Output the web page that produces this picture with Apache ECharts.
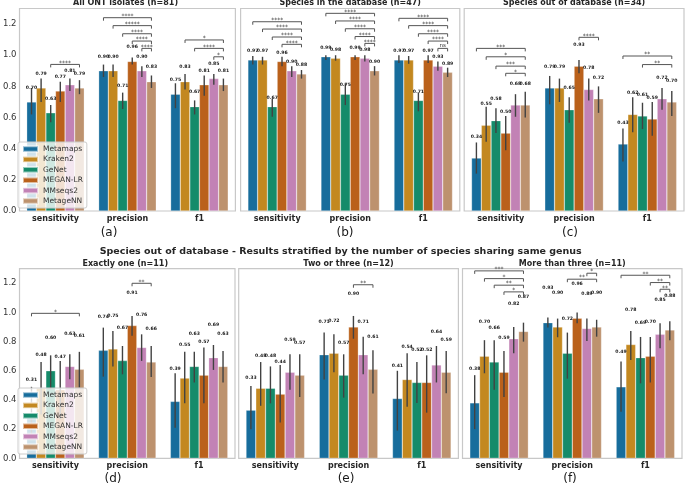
<!DOCTYPE html>
<html><head><meta charset="utf-8">
<script src="https://cdn.jsdelivr.net/npm/echarts@6.0.0/dist/echarts.min.js"></script>
<style>html,body{margin:0;padding:0;background:#fff}#c{width:685px;height:486px}</style>
</head><body><div id="c"></div>
<script>
// ---------- labels ----------
const methods = ['Metamaps', 'Kraken2', 'GeNet', 'MEGAN-LR', 'MMseqs2', 'MetageNN'];
const metrics = ['sensitivity', 'precision', 'f1'];
const yTicks = [0, 0.2, 0.4, 0.6, 0.8, 1.0, 1.2];
const panelTitles = ['All ONT isolates (n=81)', 'Species in the database (n=47)', 'Species out of database (n=34)',
  'Exactly one (n=11)', 'Two or three (n=12)', 'More than three (n=11)'];
const panelTags = ['(a)', '(b)', '(c)', '(d)', '(e)', '(f)'];
const suptitle = 'Species out of database - Results stratified by the number of species sharing same genus';

// ---------- values: rows = sensitivity, precision, f1; columns = methods ----------
const meanA = [[0.70, 0.79, 0.63, 0.77, 0.81, 0.79], [0.90, 0.90, 0.71, 0.96, 0.90, 0.83], [0.75, 0.83, 0.67, 0.81, 0.85, 0.81]];
const lowA  = [[0.62, 0.70, 0.57, 0.70, 0.77, 0.75], [0.86, 0.86, 0.655, 0.94, 0.86, 0.79], [0.66, 0.78, 0.62, 0.74, 0.81, 0.77]];
const highA = [[0.79, 0.85, 0.68, 0.83, 0.85, 0.84], [0.94, 0.94, 0.76, 0.985, 0.93, 0.87], [0.82, 0.88, 0.71, 0.87, 0.88, 0.85]];

const meanB = [[0.97, 0.97, 0.67, 0.96, 0.90, 0.88], [0.99, 0.98, 0.75, 0.99, 0.98, 0.90], [0.97, 0.97, 0.71, 0.97, 0.93, 0.89]];
const lowB  = [[0.94, 0.94, 0.605, 0.93, 0.86, 0.85], [0.97, 0.965, 0.68, 0.97, 0.96, 0.87], [0.95, 0.945, 0.64, 0.95, 0.90, 0.86]];
const highB = [[0.995, 0.99, 0.72, 0.99, 0.93, 0.905], [1.0, 1.0, 0.82, 1.0, 1.0, 0.93], [1.0, 0.995, 0.76, 1.0, 0.96, 0.92]];

const meanC = [[0.34, 0.55, 0.58, 0.50, 0.68, 0.68], [0.79, 0.79, 0.65, 0.93, 0.78, 0.72], [0.43, 0.62, 0.61, 0.59, 0.72, 0.70]];
const lowC  = [[0.24, 0.445, 0.50, 0.39, 0.605, 0.60], [0.685, 0.70, 0.567, 0.884, 0.71, 0.63], [0.317, 0.505, 0.526, 0.483, 0.65, 0.61]];
const highC = [[0.44, 0.67, 0.66, 0.61, 0.75, 0.765], [0.867, 0.85, 0.73, 0.97, 0.85, 0.80], [0.53, 0.73, 0.695, 0.70, 0.79, 0.77]];

const meanD = [[0.31, 0.48, 0.60, 0.47, 0.63, 0.61], [0.74, 0.75, 0.67, 0.91, 0.76, 0.66], [0.39, 0.55, 0.63, 0.57, 0.69, 0.63]];
const lowD  = [[0.13, 0.30, 0.473, 0.27, 0.542, 0.485], [0.56, 0.63, 0.576, 0.84, 0.668, 0.558], [0.21, 0.377, 0.52, 0.377, 0.606, 0.52]];
const highD = [[0.49, 0.66, 0.706, 0.667, 0.713, 0.73], [0.896, 0.873, 0.77, 0.976, 0.85, 0.77], [0.583, 0.73, 0.73, 0.76, 0.777, 0.736]];

const meanE = [[0.33, 0.48, 0.48, 0.44, 0.59, 0.57], [0.71, 0.72, 0.57, 0.90, 0.71, 0.61], [0.41, 0.54, 0.52, 0.52, 0.64, 0.59]];
const lowE  = [[0.20, 0.36, 0.377, 0.245, 0.47, 0.42], [0.54, 0.59, 0.416, 0.82, 0.576, 0.444], [0.19, 0.354, 0.38, 0.313, 0.52, 0.446]];
const highE = [[0.496, 0.66, 0.63, 0.64, 0.713, 0.713], [0.862, 0.85, 0.713, 0.976, 0.834, 0.74], [0.60, 0.72, 0.66, 0.706, 0.77, 0.736]];

const meanF = [[0.38, 0.70, 0.66, 0.59, 0.82, 0.87], [0.93, 0.90, 0.72, 0.96, 0.89, 0.90], [0.49, 0.78, 0.69, 0.70, 0.85, 0.88]];
const lowF  = [[0.20, 0.583, 0.47, 0.42, 0.72, 0.80], [0.896, 0.83, 0.546, 0.926, 0.805, 0.834], [0.32, 0.674, 0.514, 0.52, 0.754, 0.81]];
const highF = [[0.57, 0.81, 0.81, 0.736, 0.90, 0.93], [0.965, 0.958, 0.862, 0.999, 0.958, 0.95], [0.663, 0.873, 0.832, 0.832, 0.926, 0.94]];

// ---------- significance comparisons: [metric, methodFrom, methodTo, text] ----------
const sigA = [[0, 2, 5, '****'], [1, 0, 5, '****'], [1, 1, 5, '*****'], [1, 2, 5, '****'], [1, 3, 5, '****'], [1, 4, 5, '****'],
  [2, 1, 5, '*'], [2, 2, 5, '****'], [2, 4, 5, '*']];
const sigB = [[0, 0, 5, '****'], [0, 1, 5, '****'], [0, 2, 5, '****'], [0, 3, 5, '****'],
  [1, 0, 5, '****'], [1, 1, 5, '****'], [1, 2, 5, '****'], [1, 3, 5, '****'], [1, 4, 5, '****'],
  [2, 0, 5, '****'], [2, 1, 5, '****'], [2, 2, 5, '****'], [2, 3, 5, '****'], [2, 4, 5, 'ns']];
const sigC = [[0, 0, 5, '***'], [0, 1, 5, '*'], [0, 2, 5, '***'], [0, 3, 5, '*'], [1, 3, 5, '****'], [2, 0, 5, '**'], [2, 2, 5, '**']];
const sigD = [[0, 0, 5, '*'], [1, 3, 5, '**']];
const sigE = [[1, 3, 5, '**']];
const sigF = [[0, 0, 5, '***'], [0, 1, 5, '*'], [0, 2, 5, '**'], [0, 3, 5, '*'], [1, 4, 5, '*'], [1, 2, 5, '**'],
  [2, 0, 5, '**'], [2, 3, 5, '**'], [2, 4, 5, '**']];

// ---------- layout (positions / styles) ----------
const bracketLevels = [
  [0.941, 1.241, 1.19, 1.138, 1.091, 1.044, 1.098, 1.044, 0.99],
  [1.215, 1.168, 1.117, 1.07, 1.269, 1.22, 1.17, 1.12, 1.076, 1.237, 1.19, 1.138, 1.091, 1.044],
  [1.044, 0.99, 0.93, 0.884, 1.115, 0.995, 0.94],
  [0.994, 1.20],
  [1.19],
  [1.285, 1.232, 1.187, 1.141, 1.269, 1.228, 1.255, 1.205, 1.159]
];
const layout = [
  { left: 15.7, top: 8.5, width: 219.7, height: 202.5, labelOffset: 0.093, showY: true, tagX: 109, tagY: 232.5 },
  { left: 240.6, top: 8.5, width: 219.2, height: 202.5, labelOffset: 0.057, showY: false, tagX: 345, tagY: 232.5 },
  { left: 464.2, top: 8.5, width: 219.8, height: 202.5, labelOffset: 0.138, showY: false, tagX: 570, tagY: 232.5 },
  { left: 15.5, top: 268.7, width: 219.5, height: 189.6, labelOffset: 0.227, showY: true, tagX: 113, tagY: 479 },
  { left: 238.7, top: 268.7, width: 219.7, height: 189.6, labelOffset: 0.225, showY: false, tagX: 346, tagY: 479 },
  { left: 462.5, top: 268.7, width: 219.5, height: 189.6, labelOffset: 0.237, showY: false, tagX: 570, tagY: 479 }
];
const colors = ['#176D9C', '#C38820', '#158B6A', '#BA611B', '#C282B5', '#BD926E'];
const FONT = 'DejaVu Sans';

const means = [meanA, meanB, meanC, meanD, meanE, meanF];
const lows = [lowA, lowB, lowC, lowD, lowE, lowF];
const highs = [highA, highB, highC, highD, highE, highF];
const sigs = [sigA, sigB, sigC, sigD, sigE, sigF];

function barX(api, cat, k) {
  const band = api.size([1, 0])[0];
  const bw = band * 0.8 / methods.length;
  return api.coord([cat, 0])[0] + (k - (methods.length - 1) / 2) * bw;
}

const grids = [], xAxes = [], yAxes = [], series = [], graphics = [];
layout.forEach((L, p) => {
  grids.push({ left: L.left, top: L.top, width: L.width, height: L.height, show: true,
    borderColor: '#c8c8c8', borderWidth: 1.2, backgroundColor: 'transparent' });
  xAxes.push({ type: 'category', gridIndex: p, data: metrics,
    axisLine: { show: false }, axisTick: { show: false }, splitLine: { show: false },
    axisLabel: { fontFamily: FONT, fontWeight: 'bold', fontSize: 8, color: '#262626', margin: 4 } });
  yAxes.push({ type: 'value', gridIndex: p, min: 0, max: 1.3, interval: 0.2,
    axisLine: { show: false }, axisTick: { show: false }, splitLine: { show: false },
    axisLabel: { show: L.showY, showMaxLabel: false, fontFamily: FONT, fontSize: 8.5, color: '#333', margin: 3,
      formatter: v => yTicks.some(t => Math.abs(t - v) < 1e-6) ? v.toFixed(1) : '' } });
  methods.forEach((m, k) => {
    series.push({ type: 'bar', name: m, xAxisIndex: p, yAxisIndex: p,
      data: means[p].map(row => row[k]),
      barGap: '0%', barCategoryGap: '20%',
      itemStyle: { color: colors[k], borderColor: 'rgba(255,255,255,0.55)', borderWidth: 0.5 },
      emphasis: { disabled: true }, silent: true });
  });
  // error bars and value labels
  const errData = [];
  for (let c = 0; c < metrics.length; c++) for (let k = 0; k < methods.length; k++) errData.push([c, k]);
  series.push({ type: 'custom', xAxisIndex: p, yAxisIndex: p, data: errData, encode: { x: 0, y: 1 }, silent: true, z: 3,
    renderItem: function (params, api) {
      const c = api.value(0), k = api.value(1);
      const m = means[p][c][k], lo = lows[p][c][k], hi = highs[p][c][k];
      const cx = barX(api, c, k);
      const y1 = api.coord([c, lo])[1], y2 = api.coord([c, hi])[1];
      const yl = api.coord([c, m + L.labelOffset])[1];
      return { type: 'group', children: [
        { type: 'line', shape: { x1: cx, y1: y1, x2: cx, y2: y2 }, style: { stroke: '#424242', lineWidth: 1.4 } },
        { type: 'text', style: { text: m.toFixed(2), x: cx, y: yl, align: 'center', verticalAlign: 'middle',
          textAlign: 'center', textVerticalAlign: 'middle', fontFamily: FONT, fontWeight: 'bold', fontSize: 4.6, fill: '#222' } }
      ] };
    } });
  // significance brackets
  const sData = sigs[p].map((s, i) => [s[0], bracketLevels[p][i]]);
  series.push({ type: 'custom', xAxisIndex: p, yAxisIndex: p, data: sData, encode: { x: 0, y: 1 }, silent: true, z: 3,
    renderItem: function (params, api) {
      const s = sigs[p][params.dataIndex];
      const lvl = bracketLevels[p][params.dataIndex];
      const x1 = barX(api, s[0], s[1]), x2 = barX(api, s[0], s[2]);
      const y = api.coord([s[0], lvl])[1];
      const isNs = s[3] === 'ns';
      return { type: 'group', children: [
        { type: 'polyline', shape: { points: [[x1, y + 3], [x1, y], [x2, y], [x2, y + 3]] },
          style: { stroke: '#555', lineWidth: 1, fill: 'none' } },
        { type: 'text', style: { text: s[3], x: (x1 + x2) / 2, y: y - (isNs ? 3 : 1.3), align: 'center', verticalAlign: 'middle',
          textAlign: 'center', textVerticalAlign: 'middle', fontFamily: FONT, fontSize: isNs ? 5.5 : 6, fill: '#333' } }
      ] };
    } });
  graphics.push({ type: 'text', left: null, style: { text: panelTitles[p], x: L.left + L.width / 2, y: p < 3 ? 2.8 : 264,
    align: 'center', verticalAlign: 'middle', textAlign: 'center', textVerticalAlign: 'middle',
    fontFamily: FONT, fontWeight: 'bold', fontSize: 8, fill: '#262626' } });
  graphics.push({ type: 'text', style: { text: panelTags[p], x: L.tagX, y: L.tagY,
    align: 'center', verticalAlign: 'middle', textAlign: 'center', textVerticalAlign: 'middle',
    fontFamily: FONT, fontSize: 12, fill: '#1a1a1a' } });
});
graphics.push({ type: 'text', style: { text: suptitle, x: 340.7, y: 252,
  align: 'center', verticalAlign: 'middle', textAlign: 'center', textVerticalAlign: 'middle',
  fontFamily: FONT, fontWeight: 'bold', fontSize: 9.5, fill: '#262626' } });

const legends = [0, 3].map(p => ({
  data: methods, orient: 'vertical', left: 18, top: p === 0 ? 142 : 388,
  itemWidth: 15, itemHeight: 5.5, itemGap: 2.4, padding: [3, 4, 3, 4], icon: 'rect',
  textStyle: { fontFamily: FONT, fontSize: 7.5, color: '#333', lineHeight: 8 },
  backgroundColor: 'rgba(255,255,255,0.8)', borderColor: '#cccccc', borderWidth: 1, borderRadius: 2,
  selectedMode: false
}));

const chart = echarts.init(document.getElementById('c'), null, { renderer: 'canvas' });
chart.setOption({
  animation: false,
  backgroundColor: '#ffffff',
  textStyle: { fontFamily: FONT },
  grid: grids, xAxis: xAxes, yAxis: yAxes, legend: legends,
  series: series, graphic: graphics
});
</script></body></html>
